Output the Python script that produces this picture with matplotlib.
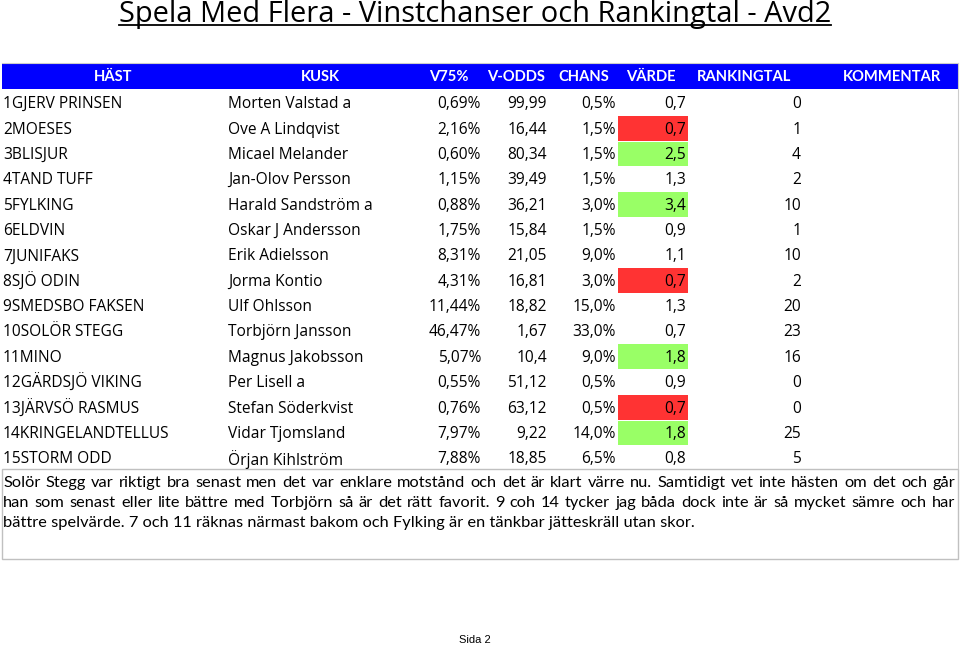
import matplotlib
matplotlib.use("Agg")
import matplotlib.pyplot as plt
from matplotlib.patches import Rectangle

title = "Spela Med Flera - Vinstchanser och Rankingtal - Avd2"
headers = ["HÄST", "KUSK", "V75%", "V-ODDS", "CHANS", "VÄRDE", "RANKINGTAL", "KOMMENTAR"]
horses = ["1GJERV PRINSEN", "2MOESES", "3BLISJUR", "4TAND TUFF", "5FYLKING", "6ELDVIN",
          "7JUNIFAKS", "8SJÖ ODIN", "9SMEDSBO FAKSEN", "10SOLÖR STEGG", "11MINO",
          "12GÄRDSJÖ VIKING", "13JÄRVSÖ RASMUS", "14KRINGELANDTELLUS", "15STORM ODD"]
drivers = ["Morten Valstad a", "Ove A Lindqvist", "Micael Melander", "Jan-Olov Persson",
           "Harald Sandström a", "Oskar J Andersson", "Erik Adielsson", "Jorma Kontio",
           "Ulf Ohlsson", "Torbjörn Jansson", "Magnus Jakobsson", "Per Lisell a",
           "Stefan Söderkvist", "Vidar Tjomsland", "Örjan Kihlström"]
v75 = [0.69, 2.16, 0.60, 1.15, 0.88, 1.75, 8.31, 4.31, 11.44, 46.47, 5.07, 0.55, 0.76, 7.97, 7.88]
vodds = [99.99, 16.44, 80.34, 39.49, 36.21, 15.84, 21.05, 16.81, 18.82, 1.67, 10.4, 51.12, 63.12, 9.22, 18.85]
chans = [0.5, 1.5, 1.5, 1.5, 3.0, 1.5, 9.0, 3.0, 15.0, 33.0, 9.0, 0.5, 0.5, 14.0, 6.5]
varde = [0.7, 0.7, 2.5, 1.3, 3.4, 0.9, 1.1, 0.7, 1.3, 0.7, 1.8, 0.9, 0.7, 1.8, 0.8]
highlight = [None, "red", "green", None, "green", None, None, "red", None, None, "green",
             None, "red", "green", None]
ranking = [0, 1, 4, 2, 10, 1, 10, 2, 20, 23, 16, 0, 0, 25, 5]
comment_lines = [
    "Solör Stegg var riktigt bra senast men det var enklare motstånd och det är klart värre nu. Samtidigt vet inte hästen om det och går",
    "han som senast eller lite bättre med Torbjörn så är det rätt favorit. 9 coh 14 tycker jag båda dock inte är så mycket sämre och har",
    "bättre spelvärde. 7 och 11 räknas närmast bakom och Fylking är en tänkbar jätteskräll utan skor.",
]
footer = "Sida 2"

FONT = "Open Sans"
fig = plt.figure(figsize=(9.6, 6.45), dpi=100)
ax = fig.add_axes([0, 0, 1, 1])
ax.set_xlim(0, 960)
ax.set_ylim(645, 0)
ax.axis("off")
renderer = fig.canvas.get_renderer()


def fit_size(text, target, family, weight="normal", base=10):
    tt = ax.text(0, 0, text, fontsize=base, family=family, weight=weight)
    w = tt.get_window_extent(renderer).width
    tt.remove()
    return base * target / w


# title fitted to width
tfs = fit_size(title, 710, FONT, "normal")
t = ax.text(475, 22, title, ha="center", va="baseline", fontsize=tfs, family=FONT, weight="normal")
bb = t.get_window_extent(renderer)
ax.plot([475 - bb.width / 2, 475 + bb.width / 2], [25, 25], color="black", lw=1.3)

fs = fit_size(horses[0], 120, FONT)

# header
ax.add_patch(Rectangle((2, 63), 956, 26, facecolor="#0000FF", edgecolor="none"))
ax.plot([2, 958], [62.5, 62.5], color="#cccccc", lw=0.8)
hx = [113, 320, 449, 516, 584, 651, 744, 892]
HF = "Lato"
for x, h in zip(hx, headers):
    ax.text(x, 77, h, ha="center", va="center", color="white", fontsize=10.6, family=HF, weight="bold")

fmt = lambda v, d: f"{v:.{d}f}".replace(".", ",")
colors = {"red": "#FF3333", "green": "#99FF66"}
y0, dy = 103, 25.36
for i in range(len(horses)):
    y = y0 + i * dy
    if highlight[i]:
        ax.add_patch(Rectangle((618, y - dy / 2 + 0.5), 70, dy - 1, facecolor=colors[highlight[i]], edgecolor="none"))
    ty = y + 1.2
    kw = dict(va="center", fontsize=fs, family=FONT)
    ax.text(3, ty, horses[i], ha="left", **kw)
    ax.text(228, ty, drivers[i], ha="left", **kw)
    ax.text(481, ty, fmt(v75[i], 2) + "%", ha="right", **kw)
    ax.text(547, ty, f"{vodds[i]:g}".replace(".", ","), ha="right", **kw)
    ax.text(616, ty, fmt(chans[i], 1) + "%", ha="right", **kw)
    ax.text(686, ty, fmt(varde[i], 1), ha="right", **kw)
    ax.text(801, ty, str(ranking[i]), ha="right", **kw)

# right edge line
ax.plot([958, 958], [63, 468], color="#cccccc", lw=0.8)

# comment box
ax.add_patch(Rectangle((1.5, 469), 956.5, 90, facecolor="none", edgecolor="#c0c0c0", lw=1))
left, right = 3, 955
CF = "Lato"
cfs = fit_size(comment_lines[-1], 688, CF)
for j, line in enumerate(comment_lines):
    y = 483 + j * 20
    if j < len(comment_lines) - 1:
        words = line.split(" ")
        ts = [ax.text(0, y, w, ha="left", va="center", fontsize=cfs, family=CF) for w in words]
        widths = [tt.get_window_extent(renderer).width for tt in ts]
        gap = (right - left - sum(widths)) / (len(words) - 1)
        x = left
        for tt, w in zip(ts, widths):
            tt.set_x(x)
            x += w + gap
    else:
        ax.text(left, y, line, ha="left", va="center", fontsize=cfs, family=CF)

ax.text(475, 640, footer, ha="center", va="center", fontsize=8, family="Liberation Sans")

fig.savefig("out.png", dpi=100)
